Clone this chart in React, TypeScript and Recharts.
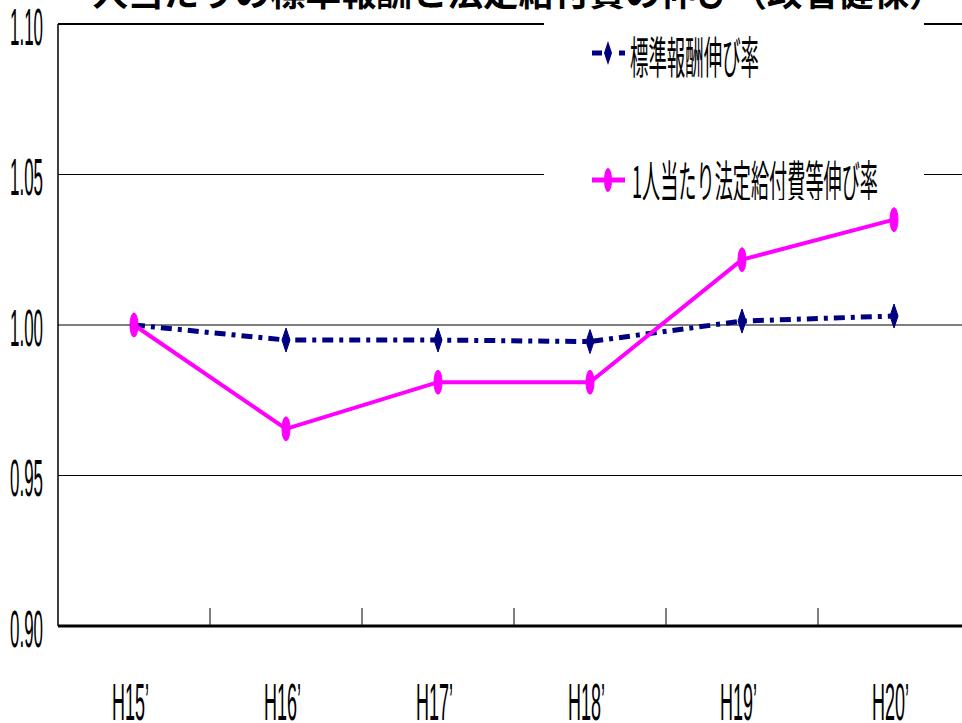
import React from 'react';
import { LineChart, Line, XAxis, YAxis, CartesianGrid, Legend, ReferenceLine } from 'recharts';

const categories = ["H15’", "H16’", "H17’", "H18’", "H19’", "H20’"];
const wageGrowth = [1.0, 0.995, 0.995, 0.9945, 1.0013, 1.003];
const benefitGrowth = [1.0, 0.9655, 0.981, 0.981, 1.0217, 1.035];
const yTicks = [0.9, 0.95, 1.0, 1.05, 1.1];
const seriesNames = ['標準報酬伸び率', '1人当たり法定給付費等伸び率'];
const titleText = '一人当たりの標準報酬と法定給付費の伸び（政管健保）';

const data = categories.map((c, i) => ({ name: c, wage: wageGrowth[i], benefit: benefitGrowth[i] }));

const NAVY = '#000080';
const MAGENTA = '#FF00FF';

const YTick = (props: any) => {
  const { x, y, payload } = props;
  return (
    <text
      x={x - 33}
      y={y + 3}
      textLength={33}
      lengthAdjust="spacingAndGlyphs"
      dominantBaseline="central"
      fontFamily="'Liberation Sans', Arial, sans-serif"
      fontSize={51}
      fill="#000"
    >
      {Number(payload.value).toFixed(2)}
    </text>
  );
};

const XTick = (props: any) => {
  const { x, y, payload, index } = props;
  const half = payload && payload.offset ? payload.offset : 76;
  return (
    <g>
      {index > 0 && (
        <line x1={x - half} x2={x - half} y1={y - 18} y2={y} stroke="#000" strokeWidth={1} />
      )}
      <text
        x={x - 22}
        y={y + 94}
        textLength={37}
        lengthAdjust="spacingAndGlyphs"
        fontFamily="'Liberation Sans', Arial, sans-serif"
        fontSize={52}
        fill="#000"
      >
        {payload.value}
      </text>
    </g>
  );
};

const Diamond = (props: any) => {
  const { cx, cy, index } = props;
  if (cx == null || cy == null) return <g key={`d-${index}`} />;
  return (
    <polygon
      key={`d-${index}`}
      points={`${cx},${cy - 12} ${cx + 4},${cy} ${cx},${cy + 12} ${cx - 4},${cy}`}
      fill={NAVY}
      stroke={NAVY}
    />
  );
};

const Oval = (props: any) => {
  const { cx, cy, index } = props;
  if (cx == null || cy == null) return <g key={`o-${index}`} />;
  return <ellipse key={`o-${index}`} cx={cx} cy={cy} rx={4} ry={12} fill={MAGENTA} stroke={MAGENTA} />;
};

const renderLegend = () => (
  <svg width={380} height={188} style={{ display: 'block' }}>
    <g>
      <line x1={48} x2={58} y1={41} y2={41} stroke={NAVY} strokeWidth={5} />
      <polygon points="64,29 68,41 64,53 60,41" fill={NAVY} />
      <line x1={75} x2={81} y1={41} y2={41} stroke={NAVY} strokeWidth={5} />
      <text
        x={86}
        y={43}
        textLength={129}
        lengthAdjust="spacingAndGlyphs"
        dominantBaseline="central"
        fontFamily="'Noto Sans CJK JP', sans-serif"
        fontSize={44}
        fill="#000"
      >
        {seriesNames[0]}
      </text>
    </g>
    <g>
      <line x1={48} x2={81} y1={168} y2={168} stroke={MAGENTA} strokeWidth={5} />
      <ellipse cx={64} cy={168} rx={4} ry={12} fill={MAGENTA} />
      <text
        x={88}
        y={167}
        textLength={246}
        lengthAdjust="spacingAndGlyphs"
        dominantBaseline="central"
        fontFamily="'Noto Sans CJK JP', sans-serif"
        fontSize={44}
        fill="#000"
      >
        {seriesNames[1]}
      </text>
    </g>
  </svg>
);

export default function App() {
  return (
    <div
      style={{
        position: 'absolute',
        left: 0,
        top: 0,
        width: 962,
        height: 723,
        overflow: 'hidden',
        background: '#fff',
      }}
    >
      <div
        style={{
          position: 'absolute',
          left: 57,
          top: -27,
          whiteSpace: 'nowrap',
          fontFamily: "'Noto Sans CJK JP', sans-serif",
          fontWeight: 700,
          fontSize: 35.5,
          lineHeight: '36px',
          color: '#000',
          zIndex: 2,
        }}
      >
        {titleText}
      </div>
      <LineChart width={1000} height={723} data={data} margin={{ top: 24, right: 30, left: 0, bottom: 0 }}>
        <CartesianGrid vertical={false} stroke="#000" strokeWidth={1} />
        <ReferenceLine y={1.1} stroke="#000" strokeWidth={2} />
        <XAxis
          dataKey="name"
          scale="band"
          height={97}
          axisLine={{ stroke: '#000', strokeWidth: 3 }}
          tickLine={false}
          tickSize={0}
          tickMargin={0}
          tick={<XTick />}
          interval={0}
        />
        <YAxis
          width={58}
          domain={[0.9, 1.1]}
          ticks={yTicks}
          axisLine={{ stroke: '#000', strokeWidth: 1.5 }}
          tickLine={false}
          tickSize={0}
          tickMargin={15}
          tick={<YTick />}
          interval={0}
        />
        <Legend
          layout="vertical"
          align="center"
          verticalAlign="middle"
          wrapperStyle={{ left: 544, top: 12, width: 380, height: 188, background: '#fff' }}
          content={renderLegend}
        />
        <Line
          type="linear"
          dataKey="wage"
          name={seriesNames[0]}
          stroke={NAVY}
          strokeWidth={5}
          strokeDasharray="11 6 4 6"
          dot={Diamond}
          isAnimationActive={false}
        />
        <Line
          type="linear"
          dataKey="benefit"
          name={seriesNames[1]}
          stroke={MAGENTA}
          strokeWidth={4}
          dot={Oval}
          isAnimationActive={false}
        />
      </LineChart>
    </div>
  );
}
